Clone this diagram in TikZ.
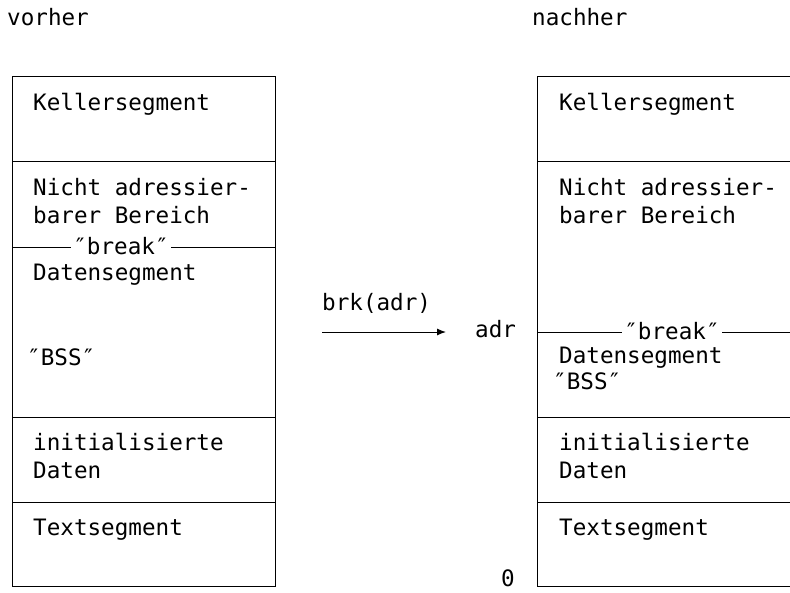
\documentclass[tikz,border=0pt]{standalone}
\usepackage{fontspec}
\setmonofont{DejaVu Sans Mono}
\usetikzlibrary{arrows.meta}
\begin{document}
\begin{tikzpicture}[x=1pt,y=-1pt,
  lbl/.style={anchor=base west,inner sep=0pt,font=\ttfamily\fontsize{22.6}{27}\selectfont},
  brklbl/.style={anchor=base,inner xsep=2pt,inner ysep=0pt,fill=white,font=\ttfamily\fontsize{22.6}{27}\selectfont},
  seg/.style={line width=1pt,line cap=rect}]
\useasboundingbox (0,0) rectangle (790,592);

% titles
\node[lbl] (vorher) at (7,25) {vorher};
\node[lbl] (nachher) at (532,25) {nachher};

% memory layout before the call
\draw[seg] (12,76) rectangle (275,586);
\draw[seg] (12,161) -- (275,161);
\draw[seg] (12,247) -- (275,247);
\draw[seg] (12,417) -- (275,417);
\draw[seg] (12,502) -- (275,502);
\node[lbl] (k1) at (33,110) {Kellersegment};
\node[lbl] (n1) at (33,195) {Nicht adressier-};
\node[lbl] (b1) at (33,223) {barer Bereich};
\node[brklbl] (br1) at (121,254) {″break″};
\node[lbl] (d1) at (33,280) {Datensegment};
\node[lbl] (s1) at (27,365) {″BSS″};
\node[lbl] (i1) at (33,450) {initialisierte};
\node[lbl] (t1) at (33,478) {Daten};
\node[lbl] (x1) at (33,535) {Textsegment};

% the system call
\coordinate (from) at (322,332);
\coordinate (to) at (446,332);
\draw[line width=1pt,-{Latex[length=9pt,width=7pt]}] (from) -- (to);
\node[lbl] (call) at (322,310) {brk(adr)};
\node[lbl] (adr) at (475,337) {adr};
\node[lbl] (zero) at (501,586) {0};

% memory layout after the call
\draw[seg] (790,76) -- (537,76) -- (537,586) -- (790,586);
\draw[seg] (537,161) -- (790,161);
\draw[seg] (537,332) -- (790,332);
\draw[seg] (537,417) -- (790,417);
\draw[seg] (537,502) -- (790,502);
\node[lbl] (k2) at (559,110) {Kellersegment};
\node[lbl] (n2) at (559,195) {Nicht adressier-};
\node[lbl] (b2) at (559,223) {barer Bereich};
\node[brklbl] (br2) at (672,339) {″break″};
\node[lbl] (d2) at (559,363) {Datensegment};
\node[lbl] (s2) at (553,389) {″BSS″};
\node[lbl] (i2) at (559,450) {initialisierte};
\node[lbl] (t2) at (559,478) {Daten};
\node[lbl] (x2) at (559,535) {Textsegment};
\end{tikzpicture}
\end{document}
